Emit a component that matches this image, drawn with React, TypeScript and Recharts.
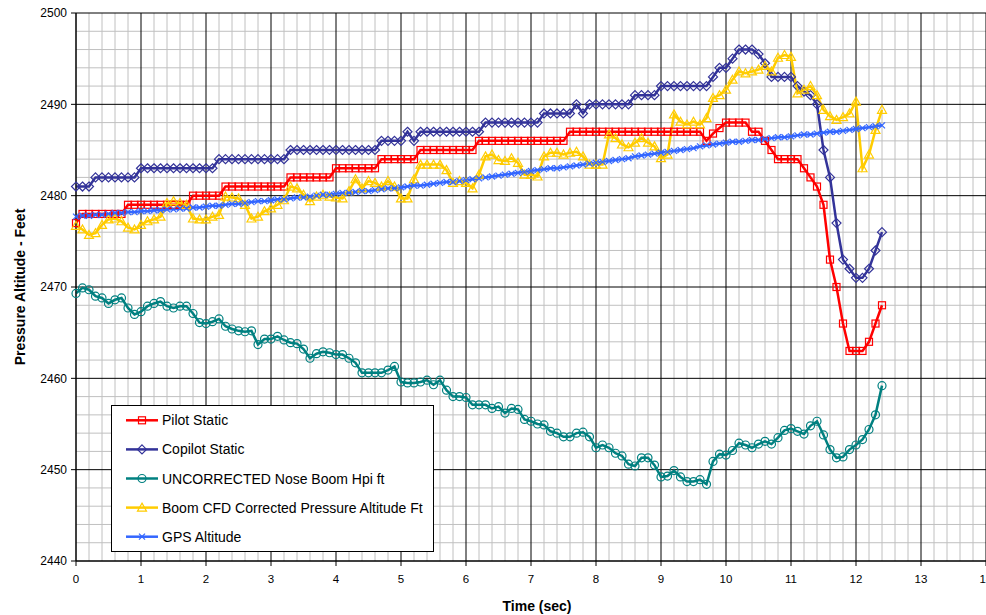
import React from "react";
import { CartesianGrid, Label, Legend, Line, LineChart, XAxis, YAxis } from "recharts";

// sample times (sec)
const time = [
  0, 0.1, 0.2, 0.3, 0.4, 0.5, 0.6, 0.7, 0.8, 0.9,
  1, 1.1, 1.2, 1.3, 1.4, 1.5, 1.6, 1.7, 1.8, 1.9,
  2, 2.1, 2.2, 2.3, 2.4, 2.5, 2.6, 2.7, 2.8, 2.9,
  3, 3.1, 3.2, 3.3, 3.4, 3.5, 3.6, 3.7, 3.8, 3.9,
  4, 4.1, 4.2, 4.3, 4.4, 4.5, 4.6, 4.7, 4.8, 4.9,
  5, 5.1, 5.2, 5.3, 5.4, 5.5, 5.6, 5.7, 5.8, 5.9,
  6, 6.1, 6.2, 6.3, 6.4, 6.5, 6.6, 6.7, 6.8, 6.9,
  7, 7.1, 7.2, 7.3, 7.4, 7.5, 7.6, 7.7, 7.8, 7.9,
  8, 8.1, 8.2, 8.3, 8.4, 8.5, 8.6, 8.7, 8.8, 8.9,
  9, 9.1, 9.2, 9.3, 9.4, 9.5, 9.6, 9.7, 9.8, 9.9,
  10, 10.1, 10.2, 10.3, 10.4, 10.5, 10.6, 10.7, 10.8, 10.9,
  11, 11.1, 11.2, 11.3, 11.4, 11.5, 11.6, 11.7, 11.8, 11.9,
  12, 12.1, 12.2, 12.3, 12.4,
];

const pilotStatic = [
  2477, 2478, 2478, 2478, 2478, 2478, 2478, 2478, 2479, 2479,
  2479, 2479, 2479, 2479, 2479, 2479, 2479, 2479, 2480, 2480,
  2480, 2480, 2480, 2481, 2481, 2481, 2481, 2481, 2481, 2481,
  2481, 2481, 2481, 2482, 2482, 2482, 2482, 2482, 2482, 2482,
  2483, 2483, 2483, 2483, 2483, 2483, 2483, 2484, 2484, 2484,
  2484, 2484, 2484, 2485, 2485, 2485, 2485, 2485, 2485, 2485,
  2485, 2485, 2486, 2486, 2486, 2486, 2486, 2486, 2486, 2486,
  2486, 2486, 2486, 2486, 2486, 2486, 2487, 2487, 2487, 2487,
  2487, 2487, 2487, 2487, 2487, 2487, 2487, 2487, 2487, 2487,
  2487, 2487, 2487, 2487, 2487, 2487, 2487, 2486, 2486.8, 2487.4,
  2488, 2488, 2488, 2488, 2487, 2487, 2486, 2485, 2484, 2484,
  2484, 2484, 2483, 2482, 2481, 2479, 2473, 2470, 2466, 2463,
  2463, 2463, 2464, 2466, 2468,
];

const copilotStatic = [
  2481, 2481, 2481, 2482, 2482, 2482, 2482, 2482, 2482, 2482,
  2483, 2483, 2483, 2483, 2483, 2483, 2483, 2483, 2483, 2483,
  2483, 2483, 2484, 2484, 2484, 2484, 2484, 2484, 2484, 2484,
  2484, 2484, 2484, 2485, 2485, 2485, 2485, 2485, 2485, 2485,
  2485, 2485, 2485, 2485, 2485, 2485, 2485, 2486, 2486, 2486,
  2486, 2487, 2486, 2487, 2487, 2487, 2487, 2487, 2487, 2487,
  2487, 2487, 2487, 2488, 2488, 2488, 2488, 2488, 2488, 2488,
  2488, 2488, 2489, 2489, 2489, 2489, 2489, 2490, 2489, 2490,
  2490, 2490, 2490, 2490, 2490, 2490, 2491, 2491, 2491, 2491,
  2492, 2492, 2492, 2492, 2492, 2492, 2492, 2492, 2493, 2494,
  2494, 2495, 2496, 2496, 2496, 2495.5, 2494.5, 2493, 2493, 2493,
  2493, 2492, 2491.4, 2491, 2490, 2485, 2482, 2477, 2473, 2472,
  2471, 2471, 2472, 2474, 2476,
];

const noseBoomUncorrected = [
  2469.3, 2469.9, 2469.7, 2469.0, 2468.8, 2468.2, 2468.6, 2468.8, 2467.7, 2467.0,
  2467.3, 2467.9, 2468.2, 2468.4, 2467.9, 2467.7, 2467.9, 2467.9, 2467.1, 2466.1,
  2466.0, 2466.2, 2466.5, 2465.7, 2465.4, 2465.2, 2465.1, 2465.2, 2463.7, 2464.3,
  2464.3, 2464.6, 2464.2, 2463.9, 2463.8, 2463.2, 2462.2, 2462.7, 2462.9, 2462.8,
  2462.6, 2462.6, 2462.2, 2461.7, 2460.6, 2460.6, 2460.6, 2460.6, 2460.9, 2461.3,
  2459.6, 2459.5, 2459.5, 2459.6, 2459.8, 2459.3, 2459.8, 2458.7, 2458.0, 2458.0,
  2457.9, 2457.1, 2457.1, 2457.1, 2456.7, 2456.9, 2456.2, 2456.7, 2456.6, 2455.5,
  2455.3, 2455.0, 2454.9, 2454.2, 2454.0, 2453.6, 2453.6, 2454.0, 2454.1, 2453.6,
  2452.4, 2452.7, 2452.4, 2451.8, 2451.5, 2450.6, 2450.4, 2451.3, 2451.3, 2450.5,
  2449.2, 2449.3, 2449.9, 2449.2, 2448.7, 2448.7, 2448.9, 2448.4, 2450.9, 2451.7,
  2451.6, 2452.1, 2452.9, 2452.7, 2452.4, 2452.8, 2453.1, 2452.8, 2453.5, 2454.3,
  2454.5, 2454.2, 2453.9, 2454.8, 2455.3, 2453.8, 2452.2, 2451.3, 2451.4, 2452.2,
  2452.7, 2453.3, 2454.4, 2456.0, 2459.2,
];

const boomCfdCorrected = [
  2476.7, 2476.3, 2475.7, 2475.9, 2476.8, 2477.4, 2477.5, 2477.2, 2476.5, 2476.3,
  2476.8, 2477.2, 2477.4, 2477.7, 2479.2, 2479.4, 2479.2, 2479.0, 2477.5, 2477.4,
  2477.4, 2477.7, 2477.9, 2479.9, 2479.8, 2479.7, 2479.0, 2477.5, 2477.7, 2478.3,
  2478.6, 2479.0, 2479.5, 2481.0, 2480.8, 2480.1, 2479.4, 2479.9, 2480.1, 2479.9,
  2479.8, 2479.7, 2480.5, 2481.8, 2480.8, 2481.6, 2481.4, 2481.0, 2481.6, 2481.0,
  2479.7, 2479.7, 2481.8, 2483.4, 2483.4, 2483.4, 2483.4, 2482.8, 2481.4, 2481.6,
  2481.4, 2480.8, 2482.3, 2484.3, 2484.5, 2483.9, 2483.8, 2484.1, 2483.6, 2482.3,
  2482.3, 2482.1, 2484.3, 2484.7, 2484.7, 2484.5, 2484.7, 2484.8, 2484.3, 2483.4,
  2483.4, 2483.4, 2486.7, 2486.3, 2485.6, 2485.3, 2485.8, 2486.3, 2485.8, 2485.4,
  2484.1, 2484.5, 2488.9, 2488.1, 2487.8, 2488.1, 2487.8, 2488.5, 2490.7, 2491.0,
  2491.6, 2492.7, 2493.6, 2493.4, 2493.6, 2493.8, 2494.2, 2493.6, 2495.1, 2495.4,
  2495.2, 2491.2, 2491.6, 2492.0, 2491.0, 2489.4, 2488.7, 2488.3, 2488.6, 2489.0,
  2490.3, 2483.0, 2484.5, 2487.2, 2489.4,
];

const gpsAltitude = [
  2477.7, 2477.8, 2477.8, 2477.9, 2477.9, 2478.0, 2478.1, 2478.1, 2478.2, 2478.2,
  2478.3, 2478.3, 2478.4, 2478.4, 2478.5, 2478.5, 2478.6, 2478.6, 2478.7, 2478.7,
  2478.8, 2478.9, 2478.9, 2479.0, 2479.1, 2479.1, 2479.2, 2479.3, 2479.4, 2479.4,
  2479.5, 2479.6, 2479.6, 2479.7, 2479.8, 2479.8, 2479.9, 2480.0, 2480.1, 2480.1,
  2480.2, 2480.3, 2480.3, 2480.4, 2480.5, 2480.5, 2480.6, 2480.7, 2480.8, 2480.8,
  2480.9, 2481.0, 2481.1, 2481.1, 2481.2, 2481.3, 2481.4, 2481.5, 2481.5, 2481.6,
  2481.7, 2481.8, 2481.9, 2482.0, 2482.1, 2482.2, 2482.3, 2482.4, 2482.5, 2482.6,
  2482.7, 2482.8, 2482.9, 2483.0, 2483.0, 2483.1, 2483.2, 2483.3, 2483.4, 2483.5,
  2483.6, 2483.7, 2483.8, 2483.9, 2484.0, 2484.1, 2484.3, 2484.4, 2484.5, 2484.6,
  2484.7, 2484.8, 2484.9, 2485.0, 2485.1, 2485.2, 2485.4, 2485.5, 2485.6, 2485.7,
  2485.8, 2485.9, 2485.9, 2486.0, 2486.1, 2486.1, 2486.2, 2486.3, 2486.4, 2486.4,
  2486.5, 2486.6, 2486.7, 2486.7, 2486.8, 2486.9, 2487.0, 2487.0, 2487.1, 2487.2,
  2487.3, 2487.4, 2487.5, 2487.6, 2487.7,
];

const xTicks = [0, 1, 2, 3, 4, 5, 6, 7, 8, 9, 10, 11, 12, 13, 14];
const yTicks = [2440, 2450, 2460, 2470, 2480, 2490, 2500];

const data = time.map((t, i) => ({
  t,
  pilot: pilotStatic[i],
  copilot: copilotStatic[i],
  nose: noseBoomUncorrected[i],
  boom: boomCfdCorrected[i],
  gps: gpsAltitude[i],
}));

// minor grid every 0.2 s and every 2 ft
const xMinor: number[] = [];
for (let k = 1; k < 70; k++) if (k % 5 !== 0) xMinor.push(k / 5);
const yMinor: number[] = [];
for (let v = 2442; v < 2500; v += 2) if (v % 10 !== 0) yMinor.push(v);

type Shape = "square" | "diamond" | "circle" | "triangle" | "cross";

const series: { key: string; name: string; color: string; shape: Shape }[] = [
  { key: "pilot", name: "Pilot Static", color: "#ff0000", shape: "square" },
  { key: "copilot", name: "Copilot Static", color: "#333399", shape: "diamond" },
  { key: "nose", name: "UNCORRECTED Nose Boom Hpi ft", color: "#008080", shape: "circle" },
  { key: "boom", name: "Boom CFD Corrected Pressure Altitude Ft", color: "#ffcc00", shape: "triangle" },
  { key: "gps", name: "GPS Altitude", color: "#3366ff", shape: "cross" },
];

function Marker({ shape, color, x, y }: { shape: Shape; color: string; x: number; y: number }) {
  const sw = 1.2;
  switch (shape) {
    case "square":
      return <rect x={x - 3.5} y={y - 3.5} width={7} height={7} fill="none" stroke={color} strokeWidth={sw} />;
    case "diamond":
      return (
        <polygon
          points={`${x},${y - 4.5} ${x + 4.5},${y} ${x},${y + 4.5} ${x - 4.5},${y}`}
          fill="none"
          stroke={color}
          strokeWidth={sw}
        />
      );
    case "circle":
      return <circle cx={x} cy={y} r={4} fill="none" stroke={color} strokeWidth={sw} />;
    case "triangle":
      return (
        <polygon
          points={`${x},${y - 4.5} ${x + 4.5},${y + 3.5} ${x - 4.5},${y + 3.5}`}
          fill="none"
          stroke={color}
          strokeWidth={sw}
        />
      );
    default:
      return (
        <g stroke={color} strokeWidth={sw}>
          <line x1={x - 3} y1={y - 3} x2={x + 3} y2={y + 3} />
          <line x1={x - 3} y1={y + 3} x2={x + 3} y2={y - 3} />
        </g>
      );
  }
}

const makeDot = (shape: Shape, color: string) => (props: any) => {
  const { cx, cy, index } = props;
  if (cx == null || cy == null) return <g key={`d-${index}`} />;
  return <Marker key={`d-${index}`} shape={shape} color={color} x={cx} y={cy} />;
};

const renderLegend = () => (
  <div
    style={{
      width: 323,
      height: 147,
      border: "1px solid #000",
      background: "#fff",
      boxSizing: "border-box",
    }}
  >
    <svg width={321} height={145} style={{ display: "block" }}>
      {series.map((s, i) => {
        const y = 14.3 + i * 29.1;
        return (
          <g key={s.key}>
            <line x1={14} y1={y} x2={46} y2={y} stroke={s.color} strokeWidth={2.5} />
            <Marker shape={s.shape} color={s.color} x={30} y={y} />
            <text x={50} y={y + 5} fontSize={14} fill="#000">
              {s.name}
            </text>
          </g>
        );
      })}
    </svg>
  </div>
);

const xTitle = () => (
  <text x={537} y={611} textAnchor="middle" fontSize={14} fontWeight="bold" fill="#000">
    Time (sec)
  </text>
);

const yTitle = () => (
  <text
    x={25}
    y={287}
    transform="rotate(-90 25 287)"
    textAnchor="middle"
    fontSize={14}
    fontWeight="bold"
    fill="#000"
  >
    Pressure Altitude - Feet
  </text>
);

export default function App() {
  return (
    <div
      style={{
        position: "fixed",
        left: 0,
        top: 0,
        width: 986,
        height: 615,
        overflow: "hidden",
        background: "#fff",
        fontFamily: '"Liberation Sans", Arial, sans-serif',
      }}
    >
      <LineChart width={1010} height={615} data={data} margin={{ top: 13, right: 24, bottom: 0, left: 0 }}>
        <CartesianGrid stroke="#c0c0c0" horizontalValues={yMinor} verticalValues={xMinor} />
        <CartesianGrid stroke="#000" horizontalValues={yTicks} verticalValues={xTicks} />
        <XAxis
          dataKey="t"
          type="number"
          domain={[0, 14]}
          ticks={xTicks}
          interval={0}
          height={54}
          tickSize={5}
          tickMargin={9}
          axisLine={{ stroke: "#000" }}
          tickLine={{ stroke: "#000" }}
          tick={{ fill: "#000", fontSize: 11.5 }}
        >
          <Label content={xTitle} />
        </XAxis>
        <YAxis
          type="number"
          domain={[2440, 2500]}
          ticks={yTicks}
          interval={0}
          width={76}
          tickSize={5}
          tickMargin={4}
          axisLine={{ stroke: "#000" }}
          tickLine={{ stroke: "#000" }}
          tick={{ fill: "#000", fontSize: 12 }}
        >
          <Label content={yTitle} />
        </YAxis>
        <Legend
          layout="vertical"
          align="center"
          verticalAlign="middle"
          content={renderLegend}
          wrapperStyle={{ left: 111, top: 405, width: 323, height: 147 }}
        />
        {series.map((s) => (
          <Line
            key={s.key}
            type="linear"
            dataKey={s.key}
            name={s.name}
            stroke={s.color}
            strokeWidth={2.5}
            dot={makeDot(s.shape, s.color)}
            activeDot={false}
            isAnimationActive={false}
          />
        ))}
      </LineChart>
    </div>
  );
}
